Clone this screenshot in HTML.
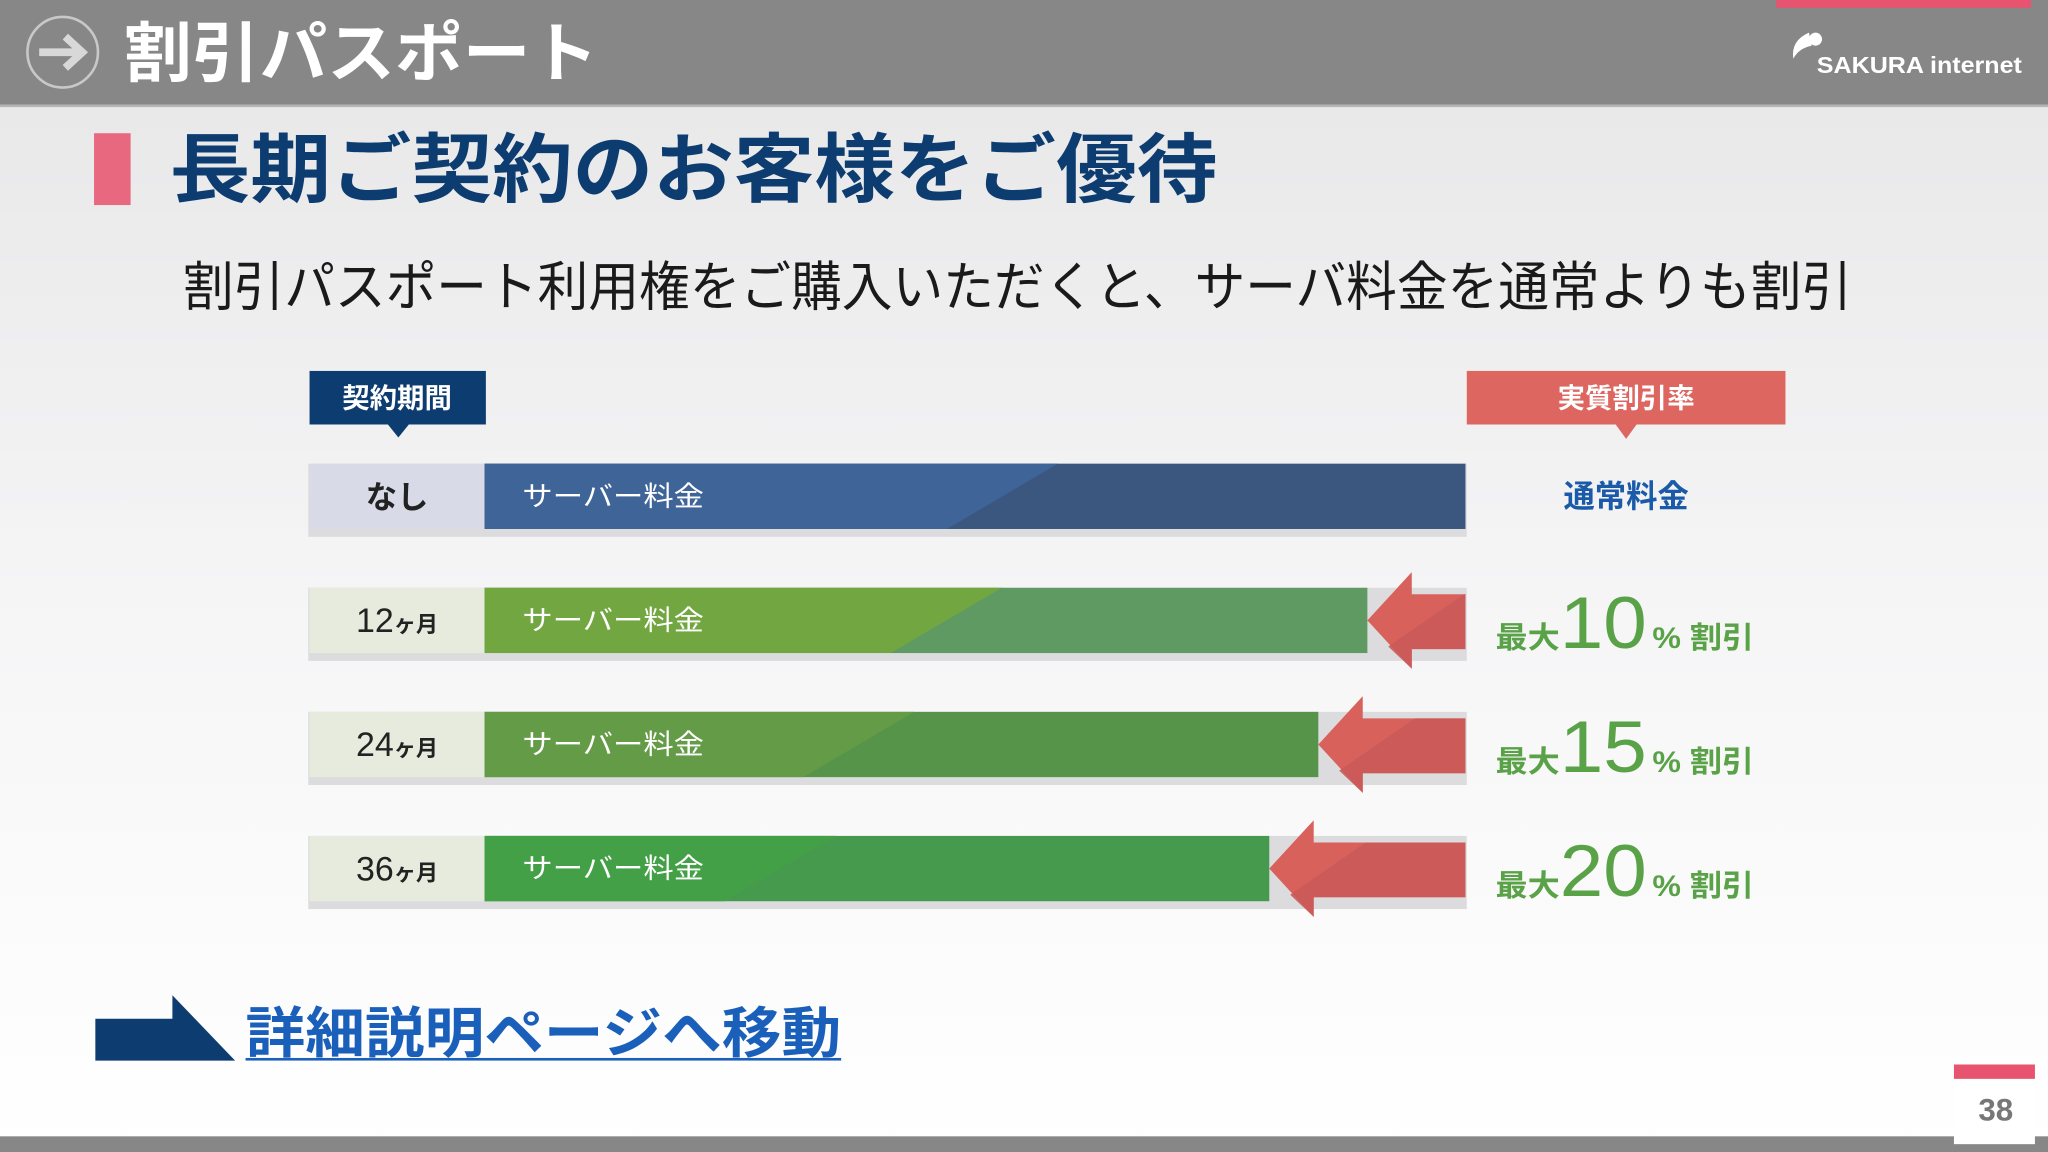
<!DOCTYPE html>
<html><head><meta charset="utf-8"><style>
html,body{margin:0;padding:0;width:2048px;height:1152px;overflow:hidden;background:#fff}
svg{display:block}
text{font-family:"Liberation Sans","Noto Sans CJK JP",sans-serif}
</style></head><body>
<svg id="s" width="2048" height="1152" viewBox="0 0 1568 882" preserveAspectRatio="none" xmlns="http://www.w3.org/2000/svg">
<defs>
<linearGradient id="bg" x1="0" y1="0" x2="0" y2="1"><stop offset="0" stop-color="#e6e6e7"/><stop offset="0.55" stop-color="#f6f6f7"/><stop offset="1" stop-color="#ffffff"/></linearGradient>
</defs>
<rect x="0" y="0" width="1568" height="882" fill="url(#bg)"/>
<rect x="0" y="0" width="1568" height="80" fill="#878787"/>
<rect x="0" y="80" width="1568" height="2" fill="#b5b5b5"/>
<rect x="1360" y="0" width="195" height="6" fill="#e8536f"/>
<g>
<circle cx="48" cy="40" r="27" fill="none" stroke="#c8c8c8" stroke-width="2"/>
<path d="M30 40 H62 M50 28 L63 40 L50 52" fill="none" stroke="#d8d8d8" stroke-width="6"/>
</g>
<text x="95" y="58" font-size="50" font-weight="bold" fill="#fff" textLength="363" lengthAdjust="spacingAndGlyphs">割引パスポート</text>
<g>
<path d="M1385 25 q-14 6 -12 20 q4 -8 14 -10 z" fill="#fff"/>
<circle cx="1390" cy="30" r="5" fill="#fff"/>
<text x="1391" y="56" font-size="18" font-weight="bold" fill="#fff" textLength="157" lengthAdjust="spacingAndGlyphs">SAKURA internet</text>
</g>
<rect x="72" y="102" width="28" height="55" fill="#e8687f"/>
<text x="130" y="150" font-size="58" font-weight="bold" fill="#0d3d70" textLength="802" lengthAdjust="spacingAndGlyphs">長期ご契約のお客様をご優待</text>
<text x="140" y="234" font-size="41" fill="#1a1a1a" textLength="1278" lengthAdjust="spacingAndGlyphs">割引パスポート利用権をご購入いただくと、サーバ料金を通常よりも割引</text>
<g>
<rect x="237" y="284" width="135" height="41" fill="#0d3d70"/>
<path d="M297 325 L313 325 L305 335 Z" fill="#0d3d70"/>
<text x="304" y="312" font-size="21" font-weight="bold" fill="#fff" text-anchor="middle">契約期間</text>
</g>
<g>
<rect x="1123" y="284" width="244" height="41" fill="#dd6660"/>
<path d="M1237 325 L1253 325 L1245 336 Z" fill="#dd6660"/>
<text x="1245" y="312" font-size="21" font-weight="bold" fill="#fff" text-anchor="middle">実質割引率</text>
</g>
<g id="rows"></g>
<g>
<path d="M73 780 H132 V762 L180 812 H73 Z" fill="#0d3d70"/>
</g>
<text x="188" y="806" font-size="42" font-weight="bold" fill="#1a60bb" textLength="456" lengthAdjust="spacingAndGlyphs">詳細説明ページへ移動</text>
<rect x="188" y="810" width="456" height="2" fill="#1a60bb"/>
<rect x="0" y="870" width="1568" height="12" fill="#878787"/>
<g>
<rect x="1496" y="826" width="62" height="50" fill="#fff"/>
<rect x="1496" y="815" width="62" height="11" fill="#e8536f"/>
<text x="1528" y="858" font-size="24" fill="#777" text-anchor="middle" font-weight="bold">38</text>
</g>
</svg>
<script>
const periods = ["なし","12","24","36"];
const pricePct = [100, 90, 85, 80];
const discountLabels = ["", "10", "15", "20"];
const NS = "http://www.w3.org/2000/svg";
const g = document.getElementById('rows');
const X0 = 371, X100 = 1122, ROW0 = 355, ROWSTEP = 95, BH = 50;
function xScale(p){ return X0 + (X100 - X0) * p / 100; }
function yRow(i){ return ROW0 + ROWSTEP * i; }
const colA = ["#3f6497","#72a640","#649b47","#43a047"];
const colB = ["#3b577f","#5e9a62","#56944a","#469a4d"];
const splitTop = [810,767,700,640];
const labelBg = ["#d8dbe7","#e7ebdd","#e7ebdd","#e7ebdd"];
function el(tag, attrs, parent){ const e=document.createElementNS(NS,tag); for(const k in attrs) e.setAttribute(k,attrs[k]); (parent||g).appendChild(e); return e; }
periods.forEach((p,i)=>{
  const y = yRow(i), xe = xScale(pricePct[i]);
  const row = el('g',{});
  
  
  el('rect',{x:236,y:y,width:X100-236+1,height:BH+6,fill:"#dcdcde"},row);
  const lb = el('rect',{x:237,y:y,width:134,height:BH,fill:labelBg[i]},row);
  
  
  const t = el('text',{x:304,y:y+34,"font-size":i===0?24:26,"font-weight":i===0?"bold":"normal",fill:"#222","text-anchor":"middle"},row);
  if(i===0){ t.textContent = p; } else { t.textContent = p; const ts=el('tspan',{"font-size":17,"font-weight":"bold"},t); ts.textContent="ヶ月"; }
  
  
  const bar = el('rect',{x:X0,y:y,width:xe-X0,height:BH,fill:colB[i]},row);
  
  
  const st = Math.min(splitTop[i], xe), sb = st - 85;
  el('path',{d:`M${X0} ${y} H${st} L${sb} ${y+BH} H${X0} Z`,fill:colA[i]},row);
  const bt = el('text',{x:400,y:y+32,"font-size":21,fill:"#fff",textLength:139,lengthAdjust:"spacingAndGlyphs"},row);
  bt.textContent = "サーバー料金";
  
  
  if(i===0){
    const nt = el('text',{x:1245,y:y+33,"font-size":24,"font-weight":"bold",fill:"#1a5aa8","text-anchor":"middle"},row);
    nt.textContent="通常料金";
    
    
  } else {
    const hb = xe + 34;
    const ar = el('path',{d:`M${xe} ${y+25} L${hb} ${y-12} V${y+5} H${X100} V${y+47} H${hb} V${y+62} Z`,fill:"#d9615c"},row);
    
    
    el('path',{d:`M${xe+16} ${y+45} L${hb+40} ${y+5} H${X100} V${y+47} H${hb} V${y+62} Z`,fill:"#c95a58",opacity:"0.9"},row);
    const dt = el('text',{x:1145,y:y+46,fill:"#5aa247","font-weight":"bold",textLength:198,lengthAdjust:"spacingAndGlyphs"},row);
    
    
    const a=el('tspan',{"font-size":23},dt); a.textContent="最大";
    const b=el('tspan',{"font-size":56,"font-weight":"normal"},dt); b.textContent=discountLabels[i];
    const c=el('tspan',{"font-size":23,dx:4},dt); c.textContent="% 割引";
  }
});
</script>
</body></html>
